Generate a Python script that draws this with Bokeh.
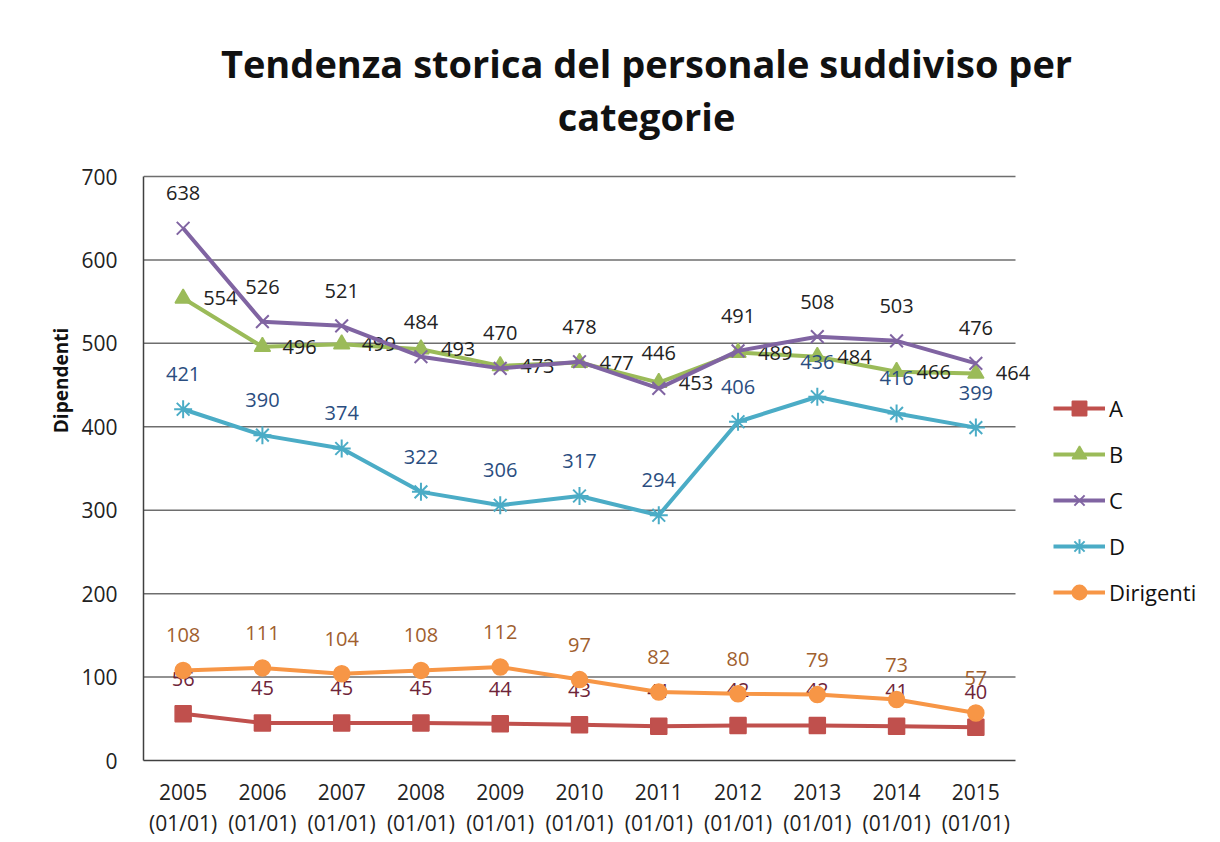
from bokeh.plotting import figure
from bokeh.models import (Range1d, Legend, LegendItem, Label, ColumnDataSource,
                          LinearAxis, FixedTicker)
from bokeh.core.properties import value
from bokeh.embed import file_html
from bokeh.resources import INLINE

years = ["2005", "2006", "2007", "2008", "2009", "2010", "2011", "2012", "2013", "2014", "2015"]
date_label = "(01/01)"
A = [56, 45, 45, 45, 44, 43, 41, 42, 42, 41, 40]
B = [554, 496, 499, 493, 473, 477, 453, 489, 484, 466, 464]
C = [638, 526, 521, 484, 470, 478, 446, 491, 508, 503, 476]
D = [421, 390, 374, 322, 306, 317, 294, 406, 436, 416, 399]
Dirigenti = [108, 111, 104, 108, 112, 97, 82, 80, 79, 73, 57]
y_ticks = [0, 100, 200, 300, 400, 500, 600, 700]
title_lines = ["Tendenza storica del personale suddiviso per", "categorie"]

FONT = "Open Sans"
W, H = 1212, 842
FL, FB = 143, 760          # frame left / bottom (px)
PR, PT = 1015, 176         # plotting-area right / top (px)
xs = list(range(len(years)))
x_lo, x_hi = -0.5, len(years) - 0.5
y_max = y_ticks[-1]
x_end = x_lo + len(years) * (W - FL) / (PR - FL)
y_end = y_max * FB / (FB - PT)

p = figure(x_range=Range1d(x_lo, x_end), y_range=Range1d(0, y_end),
           width=W, height=H, x_axis_type=None,
           output_backend="svg", toolbar_location=None, title=None,
           min_border_left=FL, min_border_right=0, min_border_top=0,
           min_border_bottom=H - FB)
p.outline_line_color = None
p.background_fill_color = "white"
p.border_fill_color = "white"
p.xgrid.grid_line_color = None
p.ygrid.grid_line_color = None

# horizontal grid lines limited to the plotting area
p.segment(x0=x_lo, x1=x_hi, y0=y_ticks[1:], y1=y_ticks[1:], line_color="#6e6e6e", line_width=1.5)

# y axis
yax = p.yaxis[0]
yax.ticker = FixedTicker(ticks=y_ticks)
yax.bounds = (0, y_max)
yax.major_tick_line_color = None
yax.minor_tick_line_color = None
yax.axis_line_color = "#404040"
yax.axis_line_width = 1.5
yax.major_label_text_font = FONT
yax.major_label_text_font_size = "21px"
yax.major_label_text_color = "#222222"
yax.major_label_standoff = 20
yax.axis_label = "Dipendenti"
yax.axis_label_text_font = FONT
yax.axis_label_text_font_size = "19px"
yax.axis_label_text_font_style = "bold"
yax.axis_label_text_color = "#111111"
yax.axis_label_standoff = 4

# x axes: year line and date line
xax = LinearAxis(ticker=FixedTicker(ticks=xs), bounds=(x_lo, x_hi),
                 major_label_overrides={i: y for i, y in zip(xs, years)})
xax2 = LinearAxis(ticker=FixedTicker(ticks=xs), bounds=(x_lo, x_hi),
                  major_label_overrides={i: date_label for i in xs})
for ax in (xax, xax2):
    ax.major_tick_line_color = None
    ax.minor_tick_line_color = None
    ax.major_label_text_font = FONT
    ax.major_label_text_font_size = "21px"
    ax.major_label_text_color = "#222222"
xax.axis_line_color = "#404040"
xax.axis_line_width = 1.5
xax.major_label_standoff = 17
xax2.axis_line_color = None
xax2.major_label_standoff = 0
p.add_layout(xax, "below")
p.add_layout(xax2, "below")

series = [
    ("A", A, "#c0504d", "square", "#6e2438", "above"),
    ("B", B, "#9bbb59", "triangle", "#222222", "right"),
    ("C", C, "#8064a2", "x", "#222222", "above"),
    ("D", D, "#4bacc6", "asterisk", "#2a4d80", "above"),
    ("Dirigenti", Dirigenti, "#f79646", "circle", "#a0602e", "above"),
]

items = []
for name, vals, col, mk, lcol, pos in series:
    src = ColumnDataSource(dict(x=xs, y=vals, t=[str(v) for v in vals]))
    lr = p.line("x", "y", source=src, line_color=col, line_width=4)
    if mk in ("x", "asterisk"):
        mr = p.scatter("x", "y", source=src, marker=mk, size=18, line_color=col, line_width=2)
    else:
        mr = p.scatter("x", "y", source=src, marker=mk, size=16, fill_color=col,
                       line_color=col, line_width=1.5)
    if pos == "above":
        p.text("x", "y", text="t", source=src, y_offset=-35, text_align="center",
               text_baseline="middle", text_font=value(FONT), text_font_size="20px",
               text_color=lcol)
    else:
        p.text("x", "y", text="t", source=src, x_offset=20, text_align="left",
               text_baseline="middle", text_font=value(FONT), text_font_size="20px",
               text_color=lcol)
    items.append(LegendItem(label=name, renderers=[lr, mr]))

legend = Legend(items=items, location=(1053 - FL, 150), background_fill_alpha=0,
                border_line_color=None, glyph_width=52, glyph_height=36,
                spacing=10, label_standoff=4, label_text_font=FONT,
                label_text_font_size="22px", label_text_color="#111111",
                padding=0, margin=0)
p.add_layout(legend, "center")

for line, ty in zip(title_lines, (62, 115)):
    p.add_layout(Label(x=646 - FL, y=FB - ty, x_units="screen", y_units="screen",
                       text=line, text_align="center", text_baseline="middle",
                       text_font=FONT, text_font_size="38px", text_font_style="bold",
                       text_color="#111111"))

open("out.html", "w").write(file_html(p, INLINE))
